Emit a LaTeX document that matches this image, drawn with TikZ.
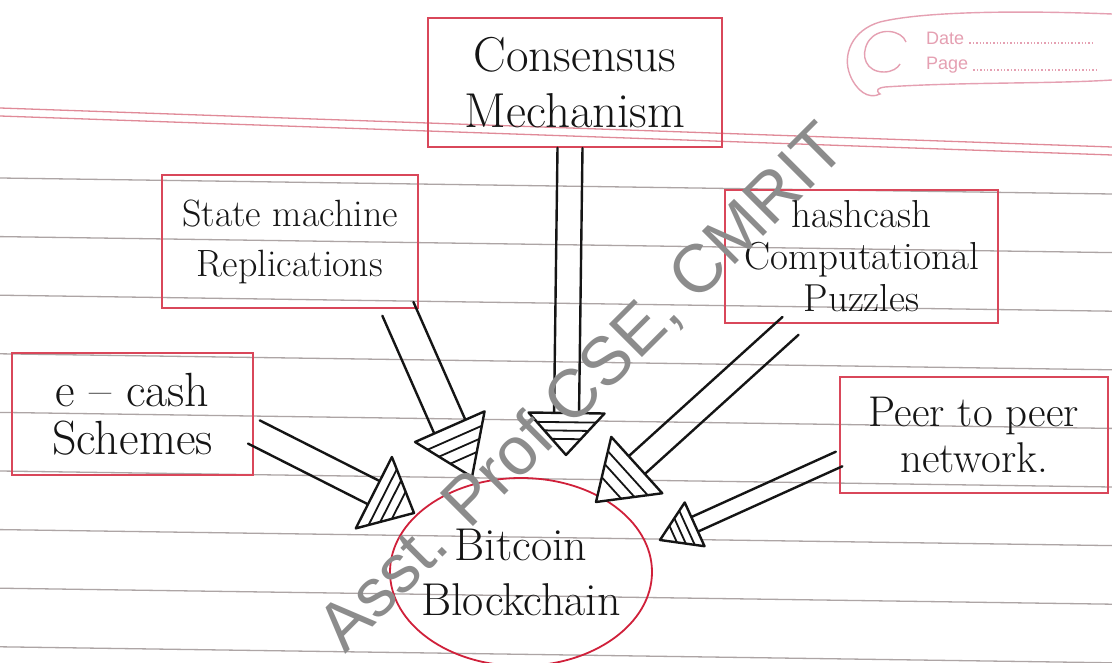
\documentclass[tikz,border=0pt]{standalone}
\usepackage{fontspec}
\newfontfamily\wmfont{Liberation Sans}
\usetikzlibrary{calc,shapes.geometric}
\definecolor{boxred}{HTML}{D9475A}
\definecolor{ellred}{HTML}{D0203A}
\definecolor{rulegray}{HTML}{ADA5A5}
\definecolor{marginred}{HTML}{E08A98}
\definecolor{stamppink}{HTML}{E5A0B2}
\definecolor{ink}{HTML}{151515}
\definecolor{wmgray}{HTML}{8C8C8C}
\tikzset{
  box/.style={draw=boxred, line width=1.8pt, rectangle, align=center, inner sep=0pt, text=ink},
  shaft/.style={draw=ink, line width=2.4pt, line cap=round},
  headtri/.style={draw=ink, line width=2.4pt, line join=round, fill=white},
  hatch/.style={draw=ink, line width=1.8pt},
  ruled/.style={draw=rulegray, line width=1.3pt},
  stampline/.style={draw=stamppink, line width=1.4pt},
}
% #1 start, #2 tip, #3 shaft half width, #4 head half width, #5 head length
\newcommand\fatarrow[5]{%
  \coordinate (fH) at ($(#2)!#5!(#1)$);
  \coordinate (fL) at ($(fH)!#4!90:(#2)$);
  \coordinate (fR) at ($(fH)!#4!-90:(#2)$);
  \draw[shaft] ($(#1)!#3!90:(#2)$) -- ($(fH)!#3!90:(#2)$);
  \draw[shaft] ($(#1)!#3!-90:(#2)$) -- ($(fH)!#3!-90:(#2)$);
  \draw[headtri] (fL) -- (#2) -- (fR) -- cycle;
  \foreach \t in {0.22,0.42,0.62}{\draw[hatch] ($(fL)!\t!(#2)$) -- ($(fR)!\t!(#2)$);}
}
\begin{document}
\begin{tikzpicture}[x=1pt,y=-1pt]
\useasboundingbox (0,0) rectangle (1112,663);
\fill[white] (0,0) rectangle (1112,663);
% notebook ruling
\foreach \k in {0,...,8}{\draw[ruled] (0,{178+58.6*\k}) -- (1112,{178+58.6*\k+16});}
\draw[draw=marginred, line width=1.3pt] (0,108) -- (1112,147);
\draw[draw=marginred, line width=1.3pt] (0,116) -- (1112,155);

% date / page stamp
\draw[stampline] (1112,14) .. controls (1010,10) and (920,12) .. (880,22)
  .. controls (852,30) and (842,55) .. (850,75) .. controls (856,90) and (868,100) .. (880,94)
  .. controls (875,90) and (878,88) .. (885,87) .. controls (960,82) and (1050,84) .. (1112,80);
\draw[stampline] (906,42) .. controls (902,30) and (878,26) .. (868,42)
  .. controls (860,56) and (866,72) .. (884,72) .. controls (892,72) and (898,68) .. (900,64);
\node[font=\wmfont\fontsize{18}{18}\selectfont, text=stamppink, anchor=west, inner sep=0pt] (date) at (926,38) {Date};
\node[font=\wmfont\fontsize{18}{18}\selectfont, text=stamppink, anchor=west, inner sep=0pt] (page) at (926,65) {Page};
\draw[stampline, dotted] ($(date.east)+(5,5)$) -- ($(date.east)+(128,5)$);
\draw[stampline, dotted] ($(page.east)+(5,5)$) -- ($(page.east)+(130,5)$);

% boxes
\node[box, minimum width=294pt, minimum height=129pt, font=\fontsize{49}{56}\selectfont] (cons) at (575,82.5) {Consensus\\Mechanism};
\node[box, minimum width=256pt, minimum height=133pt, font=\fontsize{38}{50}\selectfont] (sm) at (290,241.5) {State machine\\Replications};
\node[box, minimum width=273pt, minimum height=133pt, font=\fontsize{39}{42}\selectfont] (hc) at (861.5,256.5) {hashcash\\Computational\\Puzzles};
\node[box, minimum width=241pt, minimum height=122pt, font=\fontsize{48}{48}\selectfont] (ec) at (132.5,414) {e -- cash\\Schemes};
\node[box, minimum width=268pt, minimum height=116pt, font=\fontsize{43}{46}\selectfont] (pp) at (974,435) {Peer to peer\\network.};
\node[draw=ellred, line width=1.8pt, ellipse, minimum width=262pt, minimum height=188pt, inner sep=0pt] (bc) at (521,572) {};
\node[align=center, text=ink, inner sep=0pt, font=\fontsize{46}{55}\selectfont] (bctext) at (bc.center) {Bitcoin\\Blockchain};

% arrow ends
\coordinate (s1) at ($(cons.south)+(-5,0)$);
\coordinate (t1) at (566,455);
\coordinate (s2) at ($(sm.south east)+(-21,0)$);
\coordinate (t2) at (472,477);
\coordinate (s3) at ($(ec.east)+(0,18)$);
\coordinate (t3) at (414,513);
\coordinate (s4) at ($(hc.south)+(-71,2)$);
\coordinate (t4) at (596,502);
\coordinate (s5) at ($(pp.west)+(0,24)$);
\coordinate (t5) at (660,540);

\fatarrow{s1}{t1}{12.5pt}{38pt}{42pt}
\fatarrow{s2}{t2}{17pt}{38pt}{55pt}
\fatarrow{s3}{t3}{13pt}{40pt}{45pt}
\fatarrow{s4}{t4}{12pt}{38pt}{55pt}
\fatarrow{s5}{t5}{8pt}{24pt}{38pt}

% watermark
\node[font=\wmfont\fontsize{68}{68}\selectfont, text=wmgray, rotate=45, anchor=base west, inner sep=0pt] (wm) at (345,655) {Asst. Prof CSE, CMRIT};
\end{tikzpicture}
\end{document}
